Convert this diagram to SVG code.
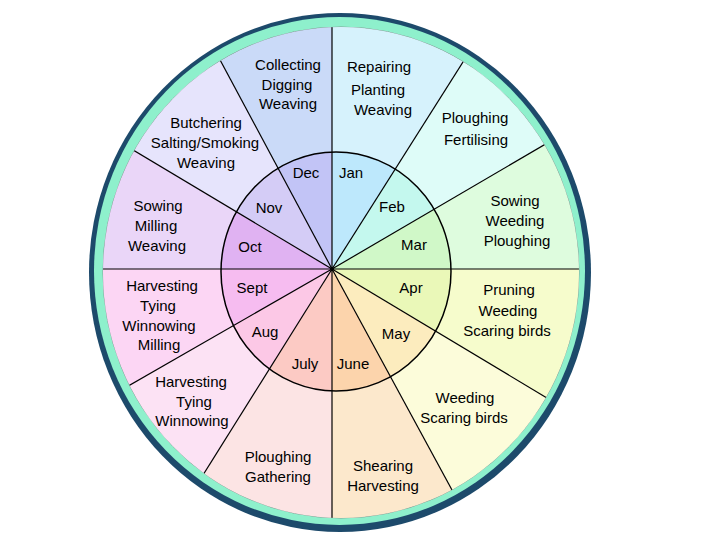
<svg xmlns="http://www.w3.org/2000/svg" width="720" height="540" viewBox="0 0 720 540">
<defs>
<clipPath id="outerClip"><ellipse cx="341" cy="272.5" rx="238" ry="245.5"/></clipPath>
<clipPath id="innerClip"><ellipse cx="336" cy="271.5" rx="115" ry="119.5"/></clipPath>
<style>
text{font-family:"Liberation Sans",Arial,sans-serif;font-size:15px;fill:#000;text-anchor:middle}
.o{clip-path:url(#outerClip)}
.i{clip-path:url(#innerClip)}
.spoke{stroke:#000;stroke-width:1.2;fill:none}
</style>
</defs>
<rect width="720" height="540" fill="#fff"/>
<g id="rim">
<ellipse cx="340" cy="272.5" rx="251" ry="259.5" fill="#1d4a6b"/>
<ellipse cx="339.5" cy="271" rx="245.5" ry="254" fill="#8ef0cc"/>
<ellipse cx="341" cy="272.5" rx="238" ry="245.5" fill="#fff" stroke="#7f9a92" stroke-width="1"/>
</g>
<g id="jan">
<polygon class="o" points="332,269 332,-300 594,-145" fill="#d6f2fc"/>
<polygon class="i" points="332,269 332,-300 594,-145" fill="#bde8fc"/>
<text x="379" y="72">Repairing</text><text x="378" y="95">Planting</text><text x="383" y="115">Weaving</text>
<text x="351" y="178">Jan</text>
</g>
<g id="feb">
<polygon class="o" points="332,269 594,-145 756,21" fill="#defcf8"/>
<polygon class="i" points="332,269 594,-145 756,21" fill="#c4f8ee"/>
<text x="475" y="123">Ploughing</text><text x="476" y="145">Fertilising</text>
<text x="392" y="212">Feb</text>
</g>
<g id="mar">
<polygon class="o" points="332,269 756,21 800,269" fill="#defcde"/>
<polygon class="i" points="332,269 756,21 800,269" fill="#d0f8c8"/>
<text x="515" y="206">Sowing</text><text x="515" y="226">Weeding</text><text x="517" y="246">Ploughing</text>
<text x="414" y="250">Mar</text>
</g>
<g id="apr">
<polygon class="o" points="332,269 800,269 762,527" fill="#f6fccc"/>
<polygon class="i" points="332,269 800,269 762,527" fill="#eaf8b8"/>
<text x="509" y="295">Pruning</text><text x="508" y="316">Weeding</text><text x="507" y="336">Scaring birds</text>
<text x="411" y="293">Apr</text>
</g>
<g id="may">
<polygon class="o" points="332,269 762,527 572,711" fill="#fcfcda"/>
<polygon class="i" points="332,269 762,527 572,711" fill="#fcecbe"/>
<text x="465" y="403">Weeding</text><text x="464" y="423">Scaring birds</text>
<text x="396" y="339">May</text>
</g>
<g id="june">
<polygon class="o" points="332,269 572,711 332,800" fill="#fce8cc"/>
<polygon class="i" points="332,269 572,711 332,800" fill="#fcd4ac"/>
<text x="383" y="471">Shearing</text><text x="383" y="491">Harvesting</text>
<text x="353" y="369">June</text>
</g>
<g id="july">
<polygon class="o" points="332,269 332,800 74,681" fill="#fce4e4"/>
<polygon class="i" points="332,269 332,800 74,681" fill="#fccac4"/>
<text x="278" y="462">Ploughing</text><text x="278" y="482">Gathering</text>
<text x="305" y="369">July</text>
</g>
<g id="aug">
<polygon class="o" points="332,269 74,681 -72,501" fill="#fce2f4"/>
<polygon class="i" points="332,269 74,681 -72,501" fill="#fcc8e6"/>
<text x="191" y="387">Harvesting</text><text x="194" y="407">Tying</text><text x="192" y="426">Winnowing</text>
<text x="265" y="337">Aug</text>
</g>
<g id="sept">
<polygon class="o" points="332,269 -72,501 -200,269" fill="#fcd6f4"/>
<polygon class="i" points="332,269 -72,501 -200,269" fill="#f6bcf0"/>
<text x="162" y="291">Harvesting</text><text x="158" y="311">Tying</text><text x="159" y="331">Winnowing</text><text x="159" y="350">Milling</text>
<text x="252" y="293">Sept</text>
</g>
<g id="oct">
<polygon class="o" points="332,269 -200,269 -66,31" fill="#ead6f8"/>
<polygon class="i" points="332,269 -200,269 -66,31" fill="#e0b2f2"/>
<text x="158" y="211">Sowing</text><text x="156" y="231">Milling</text><text x="157" y="251">Weaving</text>
<text x="250" y="252">Oct</text>
</g>
<g id="nov">
<polygon class="o" points="332,269 -66,31 106,-153" fill="#e6e4fc"/>
<polygon class="i" points="332,269 -66,31 106,-153" fill="#d4ccf6"/>
<text x="206" y="128">Butchering</text><text x="205" y="148">Salting/Smoking</text><text x="206" y="168">Weaving</text>
<text x="269" y="213">Nov</text>
</g>
<g id="dec">
<polygon class="o" points="332,269 106,-153 332,-300" fill="#cadaf8"/>
<polygon class="i" points="332,269 106,-153 332,-300" fill="#c2c4f6"/>
<text x="288" y="70">Collecting</text><text x="287" y="90">Digging</text><text x="288" y="109">Weaving</text>
<text x="306" y="178">Dec</text>
</g>
<g id="connectors" class="o">
<line class="spoke" x1="332" y1="269" x2="332" y2="0"/>
<line class="spoke" x1="332" y1="269" x2="332" y2="540"/>
<line class="spoke" x1="332" y1="269" x2="600" y2="269"/>
<line class="spoke" x1="332" y1="269" x2="90" y2="269"/>
<line class="spoke" x1="332" y1="269" x2="594" y2="-145"/>
<line class="spoke" x1="332" y1="269" x2="756" y2="21"/>
<line class="spoke" x1="332" y1="269" x2="762" y2="527"/>
<line class="spoke" x1="332" y1="269" x2="572" y2="711"/>
<line class="spoke" x1="332" y1="269" x2="74" y2="681"/>
<line class="spoke" x1="332" y1="269" x2="-72" y2="501"/>
<line class="spoke" x1="332" y1="269" x2="-66" y2="31"/>
<line class="spoke" x1="332" y1="269" x2="106" y2="-153"/>
<ellipse cx="336" cy="271.5" rx="115" ry="119.5" fill="none" stroke="#000" stroke-width="1.5"/>
<circle cx="332" cy="269" r="2" fill="#000"/>
</g>
</svg>
